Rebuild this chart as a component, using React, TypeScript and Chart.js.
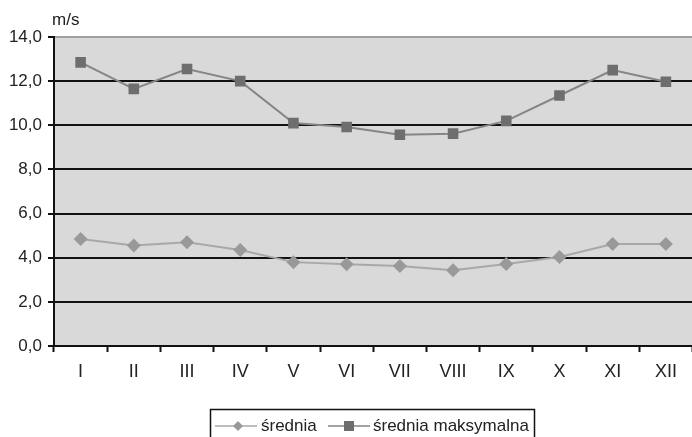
import React, { useEffect, useRef } from "react";
import { Chart, registerables } from "chart.js";

Chart.register(...registerables);

// Monthly wind speed (m/s)
const months = ["I", "II", "III", "IV", "V", "VI", "VII", "VIII", "IX", "X", "XI", "XII"];
const meanSpeed = [4.85, 4.55, 4.7, 4.35, 3.8, 3.7, 3.62, 3.43, 3.72, 4.03, 4.62, 4.62];
const maxMeanSpeed = [12.85, 11.65, 12.55, 12.0, 10.1, 9.92, 9.57, 9.62, 10.2, 11.35, 12.5, 11.97];
const yTicks = [0, 2, 4, 6, 8, 10, 12, 14];
const seriesNames = ["średnia", "średnia maksymalna"];
const unitLabel = "m/s";

const FONT = "Liberation Sans, Arial, Helvetica, sans-serif";
const TEXT = "#222222";

const plotBackground = {
  id: "plotBackground",
  beforeDraw(chart: any) {
    const { ctx, chartArea } = chart;
    ctx.save();
    ctx.fillStyle = "#d9d9d9";
    ctx.fillRect(chartArea.left, chartArea.top, chartArea.right - chartArea.left, chartArea.bottom - chartArea.top);
    ctx.restore();
  },
};

const unitAndLegend = {
  id: "unitAndLegend",
  afterDraw(chart: any) {
    const { ctx } = chart;
    ctx.save();
    ctx.font = `17px ${FONT}`;
    ctx.fillStyle = TEXT;
    ctx.textBaseline = "middle";
    ctx.textAlign = "left";
    ctx.fillText(unitLabel, 52, 20);

    // framed legend below the axis
    ctx.strokeStyle = "#111";
    ctx.lineWidth = 1.5;
    ctx.strokeRect(210.5, 409.5, 324, 40);

    const cy = 426;
    const items = [
      { x0: 215, x1: 257, mx: 238, text: 261, ds: 0 },
      { x0: 328, x1: 370, mx: 349, text: 373, ds: 1 },
    ];
    items.forEach((it) => {
      const ds = chart.data.datasets[it.ds];
      ctx.strokeStyle = ds.borderColor;
      ctx.lineWidth = 1.5;
      ctx.beginPath();
      ctx.moveTo(it.x0, cy);
      ctx.lineTo(it.x1, cy);
      ctx.stroke();
      ctx.fillStyle = ds.pointBackgroundColor;
      ctx.beginPath();
      if (ds.pointStyle === "rectRot") {
        const r = 5;
        ctx.moveTo(it.mx, cy - r);
        ctx.lineTo(it.mx + r, cy);
        ctx.lineTo(it.mx, cy + r);
        ctx.lineTo(it.mx - r, cy);
        ctx.closePath();
      } else {
        ctx.rect(it.mx - 5, cy - 5, 10, 10);
      }
      ctx.fill();
      ctx.fillStyle = TEXT;
      ctx.font = `17px ${FONT}`;
      ctx.fillText(ds.label, it.text, cy);
    });
    ctx.restore();
  },
};

export default function App() {
  const canvasRef = useRef<HTMLCanvasElement | null>(null);

  useEffect(() => {
    if (!canvasRef.current) return;
    const chart = new Chart(canvasRef.current, {
      type: "line",
      data: {
        labels: months,
        datasets: [
          {
            label: seriesNames[0],
            data: meanSpeed,
            borderColor: "#a8a8a8",
            borderWidth: 2,
            pointStyle: "rectRot",
            pointRadius: 7,
            pointBackgroundColor: "#999999",
            pointBorderWidth: 0,
            tension: 0,
          },
          {
            label: seriesNames[1],
            data: maxMeanSpeed,
            borderColor: "#858585",
            borderWidth: 2,
            pointStyle: "rect",
            pointRadius: 7.5,
            pointBackgroundColor: "#6e6e6e",
            pointBorderWidth: 0,
            tension: 0,
          },
        ],
      },
      options: {
        responsive: false,
        animation: false,
        layout: { padding: { top: 37, right: 3, left: 0, bottom: 0 } },
        plugins: {
          legend: { display: false },
          tooltip: { enabled: false },
        },
        scales: {
          x: {
            offset: true,
            grid: {
              offset: true,
              drawOnChartArea: false,
              drawTicks: true,
              tickLength: 6,
              tickColor: "#111",
              tickWidth: 2,
            },
            border: { display: true, color: "#111", width: 2 },
            ticks: {
              color: TEXT,
              font: { family: FONT, size: 18 },
              padding: 9,
              maxRotation: 0,
              autoSkip: false,
            },
            afterFit(scale: any) {
              scale.height = 91;
            },
          },
          y: {
            min: 0,
            max: 14,
            afterBuildTicks(scale: any) {
              scale.ticks = yTicks.map((v) => ({ value: v }));
            },
            grid: {
              color: (c: any) => (c.tick && c.tick.value === 14 ? "#a0a0a0" : "#111"),
              lineWidth: 2,
              drawTicks: true,
              tickLength: 6,
              tickColor: "#111",
              tickWidth: 2,
            },
            border: { display: true, color: "#111", width: 2 },
            ticks: {
              color: TEXT,
              font: { family: FONT, size: 17 },
              padding: 6,
              callback: (v: any) => Number(v).toFixed(1).replace(".", ","),
            },
            afterFit(scale: any) {
              scale.width = 54;
            },
          },
        },
      },
      plugins: [plotBackground, unitAndLegend],
    });
    return () => chart.destroy();
  }, []);

  return (
    <div style={{ position: "absolute", left: 0, top: 0, width: 692, height: 437, overflow: "hidden", background: "#fff" }}>
      <canvas ref={canvasRef} width={700} height={437} style={{ display: "block" }} />
    </div>
  );
}
